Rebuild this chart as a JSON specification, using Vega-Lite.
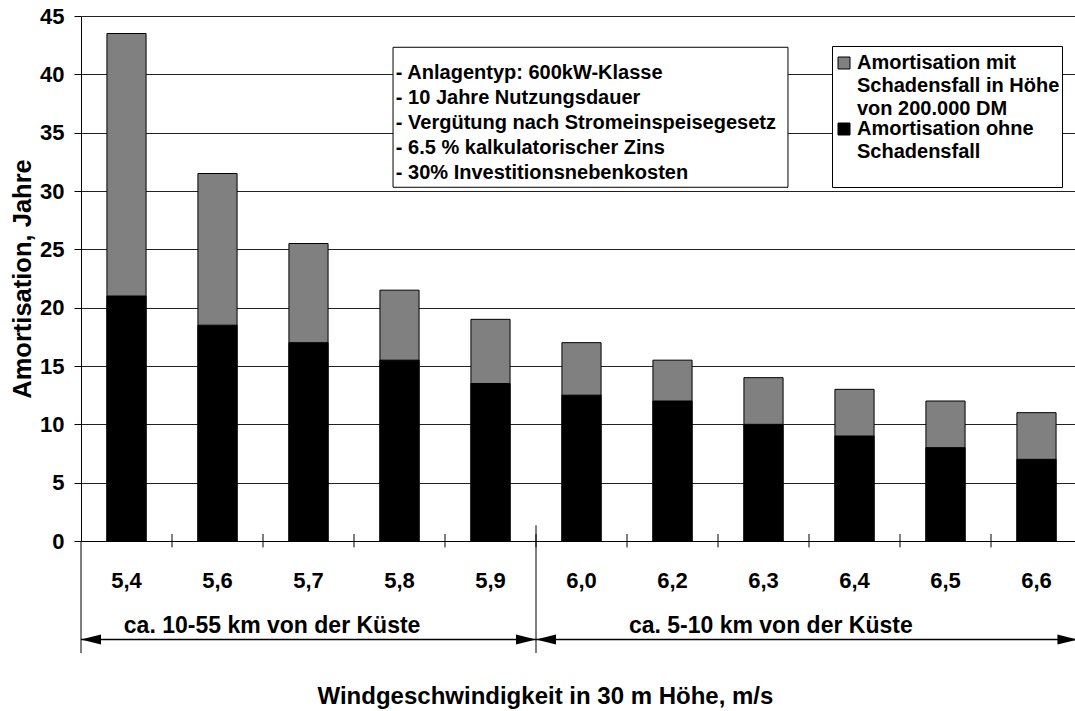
{
  "$schema": "https://vega.github.io/schema/vega-lite/v6.json",
  "width": 994,
  "height": 525,
  "autosize": {"type": "none"},
  "padding": {"left": 81, "top": 16, "right": 0, "bottom": 170},
  "background": "white",
  "config": {
    "font": "Liberation Sans",
    "view": {"stroke": null},
    "axis": {"labelFont": "Liberation Sans", "titleFont": "Liberation Sans", "labelColor": "#000", "titleColor": "#000"},
    "legend": {"labelFont": "Liberation Sans", "titleFont": "Liberation Sans"}
  },
  "datasets": {
    "bars": [
      {"speed": "5,4", "series": "mit", "years": 43.5},
      {"speed": "5,6", "series": "mit", "years": 31.5},
      {"speed": "5,7", "series": "mit", "years": 25.5},
      {"speed": "5,8", "series": "mit", "years": 21.5},
      {"speed": "5,9", "series": "mit", "years": 19},
      {"speed": "6,0", "series": "mit", "years": 17},
      {"speed": "6,2", "series": "mit", "years": 15.5},
      {"speed": "6,3", "series": "mit", "years": 14},
      {"speed": "6,4", "series": "mit", "years": 13},
      {"speed": "6,5", "series": "mit", "years": 12},
      {"speed": "6,6", "series": "mit", "years": 11},
      {"speed": "5,4", "series": "ohne", "years": 21},
      {"speed": "5,6", "series": "ohne", "years": 18.5},
      {"speed": "5,7", "series": "ohne", "years": 17},
      {"speed": "5,8", "series": "ohne", "years": 15.5},
      {"speed": "5,9", "series": "ohne", "years": 13.5},
      {"speed": "6,0", "series": "ohne", "years": 12.5},
      {"speed": "6,2", "series": "ohne", "years": 12},
      {"speed": "6,3", "series": "ohne", "years": 10},
      {"speed": "6,4", "series": "ohne", "years": 9},
      {"speed": "6,5", "series": "ohne", "years": 8},
      {"speed": "6,6", "series": "ohne", "years": 7}
    ],
    "boundaries": [
      {"b": 1}, {"b": 2}, {"b": 3}, {"b": 4}, {"b": 5},
      {"b": 6}, {"b": 7}, {"b": 8}, {"b": 9}, {"b": 10}
    ],
    "one": [{}]
  },
  "layer": [
    {
      "data": {"name": "bars"},
      "mark": {"type": "bar", "stroke": "#000", "strokeWidth": 1},
      "encoding": {
        "x": {
          "field": "speed", "type": "ordinal", "sort": null,
          "scale": {"range": [0, 1001], "paddingInner": 0.57, "paddingOuter": 0.285},
          "axis": {
            "title": "Windgeschwindigkeit in 30 m Höhe, m/s",
            "labelAngle": 0, "ticks": false, "tickSize": 0,
            "domainColor": "#000", "domainWidth": 1,
            "labelFontSize": 22, "labelFontWeight": "bold",
            "labelBaseline": "middle", "labelPadding": 39,
            "titleFontSize": 24, "titleFontWeight": "bold",
            "titleX": 236, "titleY": 155, "titleAlign": "left", "titleBaseline": "middle"
          }
        },
        "y": {
          "field": "years", "type": "quantitative", "stack": null,
          "scale": {"domain": [0, 45], "nice": false},
          "axis": {
            "title": "Amortisation, Jahre",
            "values": [0, 5, 10, 15, 20, 25, 30, 35, 40, 45],
            "grid": true, "gridColor": "#222", "gridWidth": 1, "gridOpacity": 1,
            "domainColor": "#000", "domainWidth": 1,
            "tickColor": "#000", "tickSize": 7, "tickWidth": 1,
            "labelFontSize": 22, "labelFontWeight": "bold", "labelPadding": 10,
            "titleFontSize": 25.5, "titleFontWeight": "bold",
            "titleX": -59, "titleBaseline": "middle"
          }
        },
        "color": {
          "field": "series", "type": "nominal",
          "scale": {"domain": ["mit", "ohne"], "range": ["#808080", "#000000"]},
          "legend": {
            "title": " ", "titleFontSize": 5, "titlePadding": 0,
            "orient": "none", "legendX": 751, "legendY": 30,
            "strokeColor": "#000", "fillColor": "#fff", "padding": 2,
            "symbolType": "square", "symbolSize": 144, "symbolStrokeColor": "#000", "symbolStrokeWidth": 1,
            "labelFontSize": 20, "labelFontWeight": "bold", "labelColor": "#000",
            "labelLimit": 0, "labelOffset": 3, "rowPadding": 0,
            "labelExpr": "datum.value == 'mit' ? ['Amortisation mit', 'Schadensfall in Höhe', 'von 200.000 DM'] : ['Amortisation ohne', 'Schadensfall', ' ']",
            "encode": {"labels": {"update": {"lineHeight": {"value": 23}}}}
          }
        }
      }
    },
    {
      "layer": [
        {
          "data": {"name": "boundaries"},
          "mark": {"type": "rule", "color": "#000", "strokeWidth": 1},
          "encoding": {
            "x": {"field": "b", "type": "quantitative", "scale": {"domain": [0, 11], "range": [0, 1001], "nice": false, "zero": false}, "axis": null},
            "y": {"datum": 0.6},
            "y2": {"datum": -0.55}
          }
        },
        {
          "data": {"name": "one"},
          "mark": {"type": "rule", "color": "#000", "strokeWidth": 1},
          "encoding": {
            "x": {"datum": 0, "type": "quantitative"},
            "y": {"datum": 0},
            "y2": {"datum": -9.6}
          }
        },
        {
          "data": {"name": "one"},
          "mark": {"type": "rule", "color": "#000", "strokeWidth": 1},
          "encoding": {
            "x": {"datum": 5, "type": "quantitative"},
            "y": {"datum": 1.35},
            "y2": {"datum": -9.6}
          }
        },
        {
          "data": {"name": "one"},
          "mark": {"type": "rule", "color": "#000", "strokeWidth": 1.5},
          "encoding": {
            "x": {"datum": 0, "type": "quantitative"},
            "x2": {"datum": 10.95},
            "y": {"datum": -8.45}
          }
        },
        {
          "data": {"name": "one"},
          "mark": {"type": "point", "shape": "M0,0L2,-0.5L2,0.5Z", "size": 400, "filled": true, "color": "#000", "opacity": 1},
          "encoding": {
            "x": {"datum": 0, "type": "quantitative"},
            "y": {"datum": -8.45}
          }
        },
        {
          "data": {"name": "one"},
          "mark": {"type": "point", "shape": "M0,0L2,-0.5L2,0.5Z", "size": 400, "filled": true, "color": "#000", "opacity": 1},
          "encoding": {
            "x": {"datum": 5, "type": "quantitative"},
            "y": {"datum": -8.45}
          }
        },
        {
          "data": {"name": "one"},
          "mark": {"type": "point", "shape": "M0,0L-2,-0.5L-2,0.5Z", "size": 400, "filled": true, "color": "#000", "opacity": 1},
          "encoding": {
            "x": {"datum": 5, "type": "quantitative"},
            "y": {"datum": -8.45}
          }
        },
        {
          "data": {"name": "one"},
          "mark": {"type": "point", "shape": "M0,0L-2,-0.5L-2,0.5Z", "size": 400, "filled": true, "color": "#000", "opacity": 1},
          "encoding": {
            "x": {"datum": 10.95, "type": "quantitative"},
            "y": {"datum": -8.45}
          }
        },
        {
          "data": {"name": "one"},
          "mark": {"type": "text", "text": "ca. 10-55 km von der Küste", "fontSize": 23, "fontWeight": "bold", "font": "Liberation Sans", "align": "center", "baseline": "middle", "color": "#000"},
          "encoding": {
            "x": {"datum": 2.1, "type": "quantitative"},
            "y": {"datum": -7.3}
          }
        },
        {
          "data": {"name": "one"},
          "mark": {"type": "text", "text": "ca. 5-10 km von der Küste", "fontSize": 23, "fontWeight": "bold", "font": "Liberation Sans", "align": "center", "baseline": "middle", "color": "#000"},
          "encoding": {
            "x": {"datum": 7.58, "type": "quantitative"},
            "y": {"datum": -7.3}
          }
        },
        {
          "data": {"name": "one"},
          "mark": {"type": "rect", "fill": "#fff", "stroke": "#000", "strokeWidth": 1},
          "encoding": {
            "x": {"datum": 3.429, "type": "quantitative"},
            "x2": {"datum": 7.769},
            "y": {"datum": 42.32},
            "y2": {"datum": 30.32}
          }
        },
        {
          "data": {"name": "one"},
          "mark": {
            "type": "text",
            "text": ["- Anlagentyp: 600kW-Klasse", "- 10 Jahre Nutzungsdauer", "- Vergütung nach Stromeinspeisegesetz", "- 6.5 % kalkulatorischer Zins", "- 30% Investitionsnebenkosten"],
            "fontSize": 20, "fontWeight": "bold", "font": "Liberation Sans", "lineHeight": 25,
            "align": "left", "baseline": "top", "color": "#000"
          },
          "encoding": {
            "x": {"datum": 3.46, "type": "quantitative"},
            "y": {"datum": 41.0}
          }
        }
      ]
    }
  ],
  "resolve": {"scale": {"x": "independent"}}
}
